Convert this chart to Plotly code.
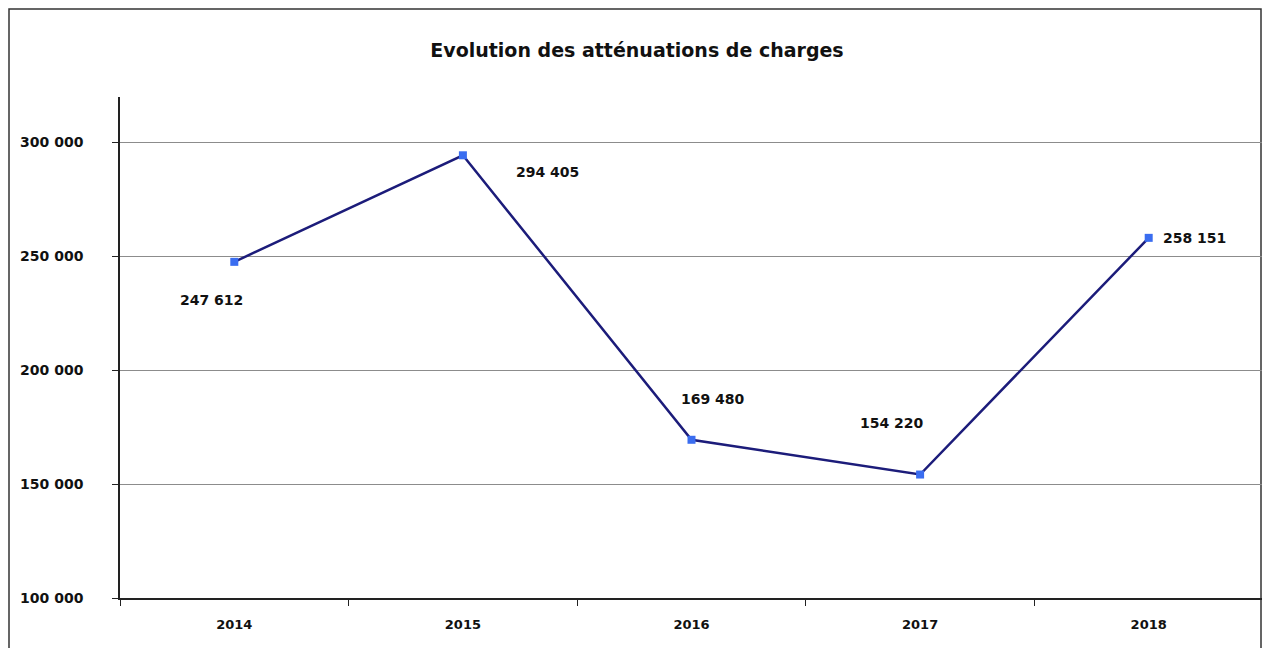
import plotly.graph_objects as go

# Evolution des atténuations de charges
years = ['2014', '2015', '2016', '2017', '2018']
values = [247612, 294405, 169480, 154220, 258151]
labels = ['247 612', '294 405', '169 480', '154 220', '258 151']

y_ticks = [100000, 150000, 200000, 250000, 300000]
y_tick_text = ['100 000', '150 000', '200 000', '250 000', '300 000']

# label offsets in pixels (x, y up) relative to each point
offsets = [(-23, -38), (85, -17), (21, 41), (-28, 52), (46, 0)]

FONT = 'DejaVu Sans, Liberation Sans, Arial'

fig = go.Figure()
fig.add_trace(go.Scatter(
    x=years, y=values, mode='lines+markers',
    line=dict(color='#1c1c7a', width=2.5),
    marker=dict(symbol='square', size=8, color='#3a6df0'),
    hoverinfo='x+y', showlegend=False,
))

# annotations on a category axis: use the category index
for i, (v, lab, (dx, dy)) in enumerate(zip(values, labels, offsets)):
    fig.add_annotation(x=i, y=v, xref='x', yref='y', text=lab, showarrow=False,
                       xshift=dx, yshift=dy,
                       font=dict(family=FONT, size=14, color='#111', weight='bold'))

# page body has an 8px margin, figure sits at (8, 8)
OFF = 8
W, H = 1270 - OFF, 648 - OFF
ml, mr, mt, mb = 120 - OFF, 1270 - OFF - 1255, 97 - OFF, 50
pw, ph = W - ml - mr, H - mt - mb


def px(x):
    return (x - OFF - ml) / pw


def py(y):
    return (H + OFF - mb - y) / ph


# outer frame
fig.add_shape(type='rect', xref='paper', yref='paper',
              x0=px(9), x1=px(1261), y0=py(660), y1=py(9),
              line=dict(color='#333', width=1.5), fillcolor='rgba(0,0,0,0)',
              layer='below')

fig.update_layout(
    width=W, height=H,
    margin=dict(l=ml, r=mr, t=mt, b=mb),
    paper_bgcolor='white', plot_bgcolor='white',
    title=dict(text='Evolution des atténuations de charges',
               xref='container', yref='container',
               x=(637 - OFF) / W, xanchor='center', y=(H + OFF - 50) / H, yanchor='middle',
               font=dict(family=FONT, size=19, color='#111', weight='bold')),
    font=dict(family=FONT, size=14, color='#111'),
)

fig.update_xaxes(
    type='category', range=[-0.5, 4.5],
    showline=True, linecolor='#222', linewidth=1.5,
    ticks='outside', tickson='boundaries', ticklen=6, tickcolor='#222',
    showgrid=False, ticklabelstandoff=14,
    tickfont=dict(family=FONT, size=13, color='#111', weight='bold'),
)
fig.update_yaxes(
    range=[100000, 320000], tickvals=y_ticks, ticktext=y_tick_text,
    showline=True, linecolor='#222', linewidth=1.5,
    ticks='outside', ticklen=6, tickcolor='#222',
    showgrid=True, gridcolor='#8c8c8c', gridwidth=1,
    zeroline=False, ticklabelstandoff=26,
    tickfont=dict(family=FONT, size=14, color='#111', weight='bold'),
)

fig.write_html("out.html")
